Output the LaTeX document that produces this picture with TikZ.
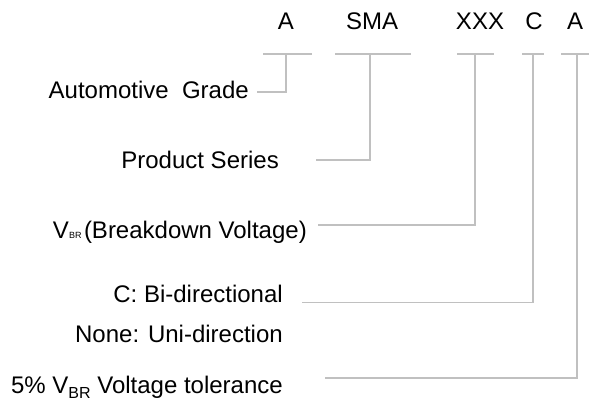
\documentclass[tikz,border=0pt]{standalone}
\usepackage{fontspec}
\setmainfont{Liberation Sans}
\definecolor{linegray}{RGB}{192,192,192}
\begin{document}
\begin{tikzpicture}[x=1pt,y=-1pt,
  lbl/.style={inner sep=0pt,anchor=base east,font=\fontsize{24}{28}\selectfont},
  code/.style={inner sep=0pt,anchor=base,font=\fontsize{24}{28}\selectfont},
  conn/.style={draw=linegray,line width=1.4pt}]
\useasboundingbox (0,0) rectangle (589,404);
% top code letters
\node[code] (tA) at (286,30) {A};
\node[code] (tSMA) at (372,30) {SMA};
\node[code] (tXXX) at (480,30) {XXX};
\node[code] (tC) at (534,30) {C};
\node[code] (tA2) at (575,30) {A};
% labels
\node[lbl] (lAuto) at (249,99) {Automotive\ \ Grade};
\node[lbl] (lProd) at (279,168) {Product Series};
\node[lbl] (lVbr) at (307,238) {V{\fontsize{9}{9}\selectfont BR\ }(Breakdown Voltage)};
\node[lbl] (lC) at (283,302) {C: Bi-directional};
\node[lbl] (lNone) at (283,342) {None: Uni-direction};
\node[lbl] (lTol) at (283,393) {5\% V\raisebox{-5pt}{\fontsize{16}{16}\selectfont BR} Voltage tolerance};
% bar coordinates
\coordinate (bA1) at (263,54); \coordinate (bA2) at (312,54); \coordinate (bA) at (286,54);
\coordinate (bS1) at (335,54); \coordinate (bS2) at (411,54); \coordinate (bS) at (370,54);
\coordinate (bX1) at (457,54); \coordinate (bX2) at (494,54); \coordinate (bX) at (475,54);
\coordinate (bC1) at (522,54); \coordinate (bC2) at (544,54); \coordinate (bC) at (533,54);
\coordinate (bT1) at (561,54); \coordinate (bT2) at (589,54); \coordinate (bT) at (577,54);
% connector ends
\coordinate (eA) at (257,92);
\coordinate (eS) at (316,160);
\coordinate (eX) at (318,225);
\coordinate (eC) at (302,302.5);
\coordinate (eT) at (325,378);
% bars
\draw[conn] (bA1) -- (bA2);
\draw[conn] (bS1) -- (bS2);
\draw[conn] (bX1) -- (bX2);
\draw[conn] (bC1) -- (bC2);
\draw[conn] (bT1) -- (bT2);
% connectors
\draw[conn] (bA) |- (eA);
\draw[conn] (bS) |- (eS);
\draw[conn] (bX) |- (eX);
\draw[conn] (bC) |- (eC);
\draw[conn] (bT) |- (eT);
\end{tikzpicture}
\end{document}
